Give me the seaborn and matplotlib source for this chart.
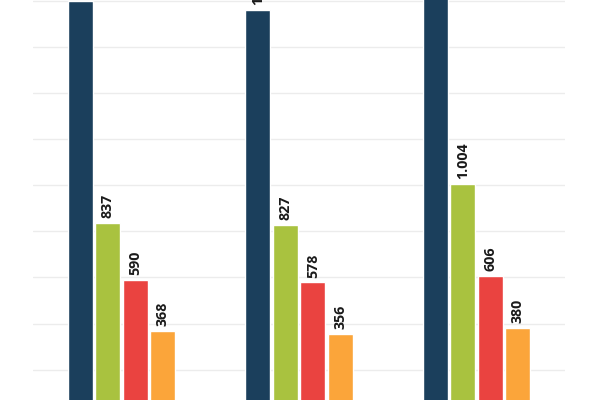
import pandas as pd
import numpy as np
import matplotlib.pyplot as plt
import seaborn as sns

# data
groups = ['A', 'B', 'C']
series = ['Total', 'S1', 'S2', 'S3']
total = [1800, 1760, 2050]
s1 = [837, 827, 1004]
s2 = [590, 578, 606]
s3 = [368, 356, 380]

colors = ['#1b3f5c', '#a9c23f', '#ea4340', '#fba53a']

df = pd.DataFrame({
    'group': groups * 4,
    'series': np.repeat(series, len(groups)),
    'value': total + s1 + s2 + s3,
})

sns.set_style("whitegrid")
plt.rcParams['font.family'] = ['Open Sans', 'DejaVu Sans']

fig = plt.figure(figsize=(6, 4), dpi=100)
ax = fig.add_axes([0.055, 0.0, 0.887, 1.0])

sns.barplot(data=df, x='group', y='value', hue='series', palette=colors,
            width=0.62, gap=0.09, ax=ax, legend=False, saturation=1)

ax.set_yticks(np.arange(0, 2001, 200))
ax.set_xlim(-0.5, 2.5)
ax.set_ylim(68, 1804)
ax.yaxis.grid(True, color='#ececec', linewidth=1)
ax.xaxis.grid(False)
for s in ax.spines.values():
    s.set_visible(False)
ax.set_xlabel('')
ax.set_ylabel('')
ax.tick_params(left=False, bottom=False, labelleft=False, labelbottom=False)

def fmt(v):
    return f'{int(round(v)):,}'.replace(',', '.')

for cont in ax.containers:
    ax.bar_label(cont, labels=[fmt(b.get_height()) for b in cont],
                 rotation=90, padding=3.5, fontsize=10.3, fontweight='bold',
                 color='#1a1a1a')

plt.savefig('out.png', dpi=100)
